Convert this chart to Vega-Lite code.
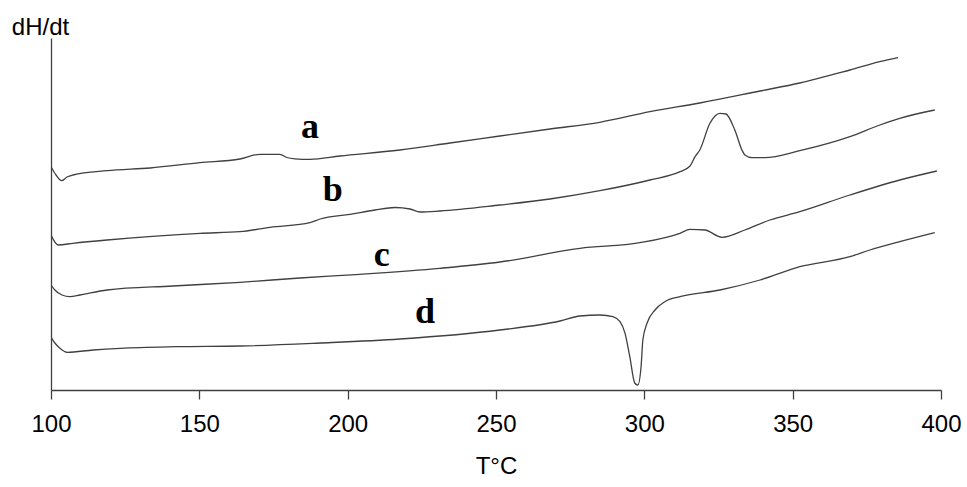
{
  "$schema": "https://vega.github.io/schema/vega-lite/v6.json",
  "width": 890,
  "height": 352,
  "autosize": "none",
  "padding": {"left": 51, "top": 38, "right": 26, "bottom": 97},
  "background": "white",
  "config": {"view": {"stroke": null}},
  "datasets": {
    "curves": [
      {"s": "a", "T": 100.0, "v": 223.3}, {"s": "a", "T": 101.7, "v": 215}, {"s": "a", "T": 103.6, "v": 209.3}, {"s": "a", "T": 105.4, "v": 213}, {"s": "a", "T": 107.4, "v": 215}, {"s": "a", "T": 118.9, "v": 219.3}, {"s": "a", "T": 133.4, "v": 222}, {"s": "a", "T": 150.2, "v": 227.3}, {"s": "a", "T": 163.7, "v": 231}, {"s": "a", "T": 170.4, "v": 235.7}, {"s": "a", "T": 177.2, "v": 235.7}, {"s": "a", "T": 179.5, "v": 232.5}, {"s": "a", "T": 182.2, "v": 231.2}, {"s": "a", "T": 187.3, "v": 230.7}, {"s": "a", "T": 197.4, "v": 234}, {"s": "a", "T": 217.6, "v": 240}, {"s": "a", "T": 234.5, "v": 247}, {"s": "a", "T": 251.3, "v": 254}, {"s": "a", "T": 268.2, "v": 261}, {"s": "a", "T": 285.0, "v": 267.7}, {"s": "a", "T": 301.9, "v": 278.3}, {"s": "a", "T": 318.7, "v": 287}, {"s": "a", "T": 339.0, "v": 299}, {"s": "a", "T": 352.4, "v": 307}, {"s": "a", "T": 369.3, "v": 320}, {"s": "a", "T": 379.4, "v": 328.3}, {"s": "a", "T": 385.5, "v": 332.3},
      {"s": "b", "T": 100.0, "v": 155}, {"s": "b", "T": 101.3, "v": 148}, {"s": "b", "T": 102.4, "v": 145}, {"s": "b", "T": 107.4, "v": 146.7}, {"s": "b", "T": 118.9, "v": 150}, {"s": "b", "T": 150.2, "v": 156.7}, {"s": "b", "T": 163.7, "v": 158.3}, {"s": "b", "T": 173.8, "v": 162.7}, {"s": "b", "T": 187.3, "v": 167.3}, {"s": "b", "T": 190.7, "v": 171}, {"s": "b", "T": 200.8, "v": 175.7}, {"s": "b", "T": 209.2, "v": 180}, {"s": "b", "T": 215.9, "v": 182.5}, {"s": "b", "T": 221.0, "v": 181}, {"s": "b", "T": 224.4, "v": 178}, {"s": "b", "T": 231.1, "v": 179}, {"s": "b", "T": 251.3, "v": 185}, {"s": "b", "T": 268.2, "v": 191}, {"s": "b", "T": 285.0, "v": 199.3}, {"s": "b", "T": 301.9, "v": 210}, {"s": "b", "T": 312.0, "v": 218.3}, {"s": "b", "T": 315.4, "v": 224}, {"s": "b", "T": 317.1, "v": 233.3}, {"s": "b", "T": 318.7, "v": 240}, {"s": "b", "T": 322.1, "v": 266.7}, {"s": "b", "T": 325.5, "v": 276.7}, {"s": "b", "T": 327.5, "v": 276}, {"s": "b", "T": 330.5, "v": 260}, {"s": "b", "T": 332.9, "v": 240}, {"s": "b", "T": 333.9, "v": 235}, {"s": "b", "T": 336.3, "v": 232.3}, {"s": "b", "T": 340.6, "v": 232.3}, {"s": "b", "T": 352.4, "v": 239.3}, {"s": "b", "T": 369.3, "v": 253.3}, {"s": "b", "T": 379.4, "v": 265}, {"s": "b", "T": 386.1, "v": 271.7}, {"s": "b", "T": 397.9, "v": 280},
      {"s": "c", "T": 100.0, "v": 105}, {"s": "c", "T": 101.3, "v": 100}, {"s": "c", "T": 103.7, "v": 95}, {"s": "c", "T": 106.4, "v": 93.3}, {"s": "c", "T": 109.8, "v": 95}, {"s": "c", "T": 118.9, "v": 100}, {"s": "c", "T": 141.1, "v": 104}, {"s": "c", "T": 163.7, "v": 107.7}, {"s": "c", "T": 183.9, "v": 112}, {"s": "c", "T": 204.1, "v": 115.7}, {"s": "c", "T": 231.1, "v": 121.7}, {"s": "c", "T": 251.3, "v": 128}, {"s": "c", "T": 278.3, "v": 141.7}, {"s": "c", "T": 298.5, "v": 147.3}, {"s": "c", "T": 312.0, "v": 156.7}, {"s": "c", "T": 315.4, "v": 160.7}, {"s": "c", "T": 320.4, "v": 160}, {"s": "c", "T": 326.2, "v": 152.7}, {"s": "c", "T": 333.9, "v": 160}, {"s": "c", "T": 342.3, "v": 170}, {"s": "c", "T": 352.4, "v": 178.3}, {"s": "c", "T": 369.3, "v": 195}, {"s": "c", "T": 386.1, "v": 210}, {"s": "c", "T": 398.6, "v": 219},
      {"s": "d", "T": 100.0, "v": 52.7}, {"s": "d", "T": 101.3, "v": 47}, {"s": "d", "T": 103.0, "v": 41.7}, {"s": "d", "T": 105.4, "v": 37.7}, {"s": "d", "T": 114.2, "v": 40}, {"s": "d", "T": 123.3, "v": 41.7}, {"s": "d", "T": 142.5, "v": 43.3}, {"s": "d", "T": 163.7, "v": 44}, {"s": "d", "T": 190.7, "v": 47}, {"s": "d", "T": 217.6, "v": 51}, {"s": "d", "T": 251.3, "v": 60}, {"s": "d", "T": 271.6, "v": 69}, {"s": "d", "T": 278.3, "v": 74}, {"s": "d", "T": 285.0, "v": 75}, {"s": "d", "T": 289.4, "v": 73.3}, {"s": "d", "T": 291.8, "v": 68.3}, {"s": "d", "T": 293.5, "v": 56.7}, {"s": "d", "T": 295.1, "v": 33.3}, {"s": "d", "T": 296.8, "v": 6.7}, {"s": "d", "T": 297.8, "v": 5}, {"s": "d", "T": 298.9, "v": 23.3}, {"s": "d", "T": 299.5, "v": 50}, {"s": "d", "T": 300.9, "v": 66.7}, {"s": "d", "T": 303.6, "v": 80}, {"s": "d", "T": 306.9, "v": 88.3}, {"s": "d", "T": 312.0, "v": 93.3}, {"s": "d", "T": 325.5, "v": 100}, {"s": "d", "T": 339.0, "v": 110}, {"s": "d", "T": 352.4, "v": 123.3}, {"s": "d", "T": 369.3, "v": 133.3}, {"s": "d", "T": 376.0, "v": 140}, {"s": "d", "T": 386.1, "v": 148.3}, {"s": "d", "T": 397.9, "v": 157.3}
    ],
    "labels": [
      {"s": "a", "T": 187.3, "v": 263.3},
      {"s": "b", "T": 195.0, "v": 200},
      {"s": "c", "T": 211.5, "v": 135},
      {"s": "d", "T": 226.1, "v": 78.3}
    ]
  },
  "layer": [
    {
      "data": {"name": "curves"},
      "mark": {"type": "line", "color": "#404040", "strokeWidth": 1.3, "clip": true, "interpolate": "monotone"},
      "encoding": {
        "x": {
          "field": "T", "type": "quantitative",
          "scale": {"domain": [100, 400], "nice": false, "zero": false},
          "axis": {
            "title": "T°C", "values": [100, 150, 200, 250, 300, 350, 400],
            "grid": false, "domainColor": "#404040", "tickColor": "#404040",
            "tickSize": 9, "domainWidth": 1.3, "tickWidth": 1.3,
            "labelFont": "Liberation Sans", "labelFontSize": 24, "labelColor": "#000000",
            "labelPadding": 13, "labelFlush": false,
            "titleFont": "Liberation Sans", "titleFontSize": 24, "titleFontWeight": "normal",
            "titleColor": "#000000", "titlePadding": 18
          }
        },
        "y": {
          "field": "v", "type": "quantitative",
          "scale": {"domain": [0, 352], "nice": false, "zero": false},
          "axis": {
            "title": "dH/dt", "ticks": false, "labels": false, "grid": false,
            "domainColor": "#404040", "domainWidth": 1.3,
            "titleAngle": 0, "titleX": -11, "titleY": -11,
            "titleAlign": "center", "titleBaseline": "middle",
            "titleFont": "Liberation Sans", "titleFontSize": 24, "titleFontWeight": "normal",
            "titleColor": "#000000"
          }
        },
        "detail": {"field": "s"}
      }
    },
    {
      "data": {"name": "labels"},
      "mark": {"type": "text", "font": "Liberation Serif", "fontWeight": "bold", "fontSize": 36, "color": "#000000", "align": "center", "baseline": "middle"},
      "encoding": {
        "x": {"field": "T", "type": "quantitative"},
        "y": {"field": "v", "type": "quantitative"},
        "text": {"field": "s"}
      }
    }
  ]
}
